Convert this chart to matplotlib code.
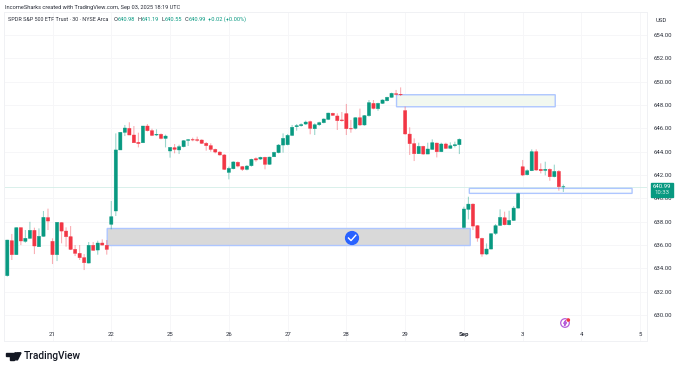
import matplotlib
matplotlib.use("Agg")
import matplotlib.pyplot as plt
from matplotlib.patches import Rectangle, Circle, Polygon
from matplotlib.transforms import IdentityTransform

plt.rcParams['font.family'] = ['Roboto', 'DejaVu Sans']

W, H = 680, 370

opens = [633.38,636.37,635.18,637.49,636.32,636.58,637.26,635.86,636.75,638.35,
 636.32,635.18,637.92,637.2,636.72,635.63,635.29,634.92,634.46,635.98,
 635.575,636.175,635.98,637.78,638.92,644.15,645.66,646.0,645.43,644.8,
 644.77,646.2,645.8,645.43,645.49,645.14,644.06,644.34,644.15,644.43,
 644.97,645.03,645.03,645.0,644.72,644.52,644.2,643.97,643.72,642.23,
 642.54,643.09,642.72,642.49,642.8,643.4,643.37,643.52,642.92,643.57,
 643.92,644.57,644.6,645.4,646.14,646.23,646.37,646.57,645.97,646.31,
 646.49,646.77,647.29,647.06,646.72,647.26,645.97,646.0,646.91,646.29,
 647.09,648.14,647.69,648.14,648.37,648.66,648.97,648.91,647.52,645.51,
 644.69,643.83,644.46,643.8,644.2,644.74,644.0,644.66,644.29,644.51,
 644.6,637.51,639.06,639.51,637.66,636.57,635.23,635.66,637.0,637.69,
 638.34,637.74,638.11,639.17,642.71,642.03,642.37,644.0,642.49,642.4,
 642.49,641.86,642.31,640.98]
closes = [636.43,635.18,637.49,636.35,636.58,637.26,635.92,636.75,638.375,638.06,
 635.18,637.95,637.2,636.72,635.63,635.29,634.92,634.49,635.98,635.55,
 636.175,636.0,635.63,638.43,644.15,645.66,646.03,645.43,644.77,644.7,
 646.2,645.8,645.4,645.49,645.14,645.34,644.37,644.2,644.43,644.94,
 645.03,645.0,644.97,644.72,644.52,644.2,643.97,643.72,642.49,642.57,
 643.12,642.77,642.49,642.77,643.35,643.29,643.52,642.92,643.54,643.94,
 644.57,645.14,645.4,646.09,646.23,646.32,646.54,646.0,646.31,646.49,
 646.8,647.31,647.12,646.66,646.66,645.97,645.95,646.91,646.29,647.09,
 648.2,647.71,648.14,648.43,648.66,649.0,648.91,648.89,645.52,644.69,
 643.83,644.46,643.8,644.23,644.77,644.0,644.66,644.29,644.51,644.6,
 645.06,639.09,639.51,637.63,636.6,635.23,635.66,636.97,637.66,638.37,
 637.74,638.11,639.17,640.4,642.0,642.37,644.0,642.43,642.37,642.49,
 641.86,642.31,641.0,640.99]
highs = [636.45,636.95,637.5,637.5,637.29,637.99,637.49,637.43,638.92,639.12,
 636.58,637.95,637.95,637.52,637.63,636.0,636.0,635.23,636.26,636.26,
 636.375,636.49,636.43,639.775,645.57,645.66,646.29,646.52,646.2,645.63,
 646.2,646.37,645.97,645.92,645.57,645.46,644.37,644.66,644.6,645.0,
 645.09,645.2,645.29,645.06,644.83,644.72,644.26,644.03,643.8,642.72,
 643.17,643.17,642.77,642.86,643.4,643.52,643.57,643.57,643.57,644.0,
 644.66,645.57,645.52,646.29,646.37,646.43,646.66,646.66,646.43,646.57,
 646.86,647.34,647.34,647.29,647.4,648.09,646.72,646.94,647.69,647.14,
 648.43,648.43,648.2,648.49,648.71,649.06,649.29,649.51,647.86,646.09,
 645.14,644.77,644.51,644.77,645.06,644.77,644.77,644.77,644.8,644.86,
 645.14,639.29,640.14,639.57,637.71,636.63,636.14,637.0,637.8,639.06,
 638.86,638.94,639.34,640.49,643.29,642.49,644.2,644.2,643.0,643.14,
 642.57,642.89,642.43,641.19]
lows = [633.3,634.72,635.15,636.0,636.2,636.55,635.23,635.85,636.72,637.29,
 634.375,634.63,636.15,635.86,635.575,635.06,634.72,633.86,634.43,635.52,
 635.175,635.97,635.18,637.35,638.49,644.15,645.34,645.43,644.77,644.37,
 644.74,645.74,645.34,645.34,645.06,644.37,643.49,643.86,643.8,644.37,
 644.49,644.9,644.86,644.66,644.09,644.0,643.86,643.66,642.43,641.63,
 642.49,642.66,642.35,642.4,642.72,643.14,643.29,642.49,642.89,643.54,
 643.86,643.92,644.54,645.34,645.8,646.14,646.29,645.49,645.43,646.2,
 646.43,646.71,647.06,645.86,646.57,645.43,645.63,645.91,646.2,646.23,
 647.0,647.63,647.51,648.09,648.31,648.63,648.83,648.77,645.46,643.72,
 643.2,643.8,643.74,643.8,644.17,643.51,643.97,644.23,644.26,644.37,
 643.8,637.43,638.2,637.29,636.29,635.0,635.14,635.63,636.86,637.63,
 637.69,637.69,638.09,639.14,641.91,641.97,642.34,642.37,642.14,641.97,
 641.51,641.8,640.66,640.55]

date_ticks = [10, 23, 36, 49, 62, 75, 88, 101, 114, 127, 140]
date_labels = ['21', '22', '25', '26', '27', '28', '29', 'Sep', '3', '4', '5']
price_ticks = list(range(630, 656, 2))
last_price = 640.99

# zones: left bar, right bar, top price, bottom price
zone_grey = (22.1, 102.4, 637.42, 635.96)
zone_top = (86.1, 121.2, 648.88, 647.85)
zone_low = (102.2, 138.2, 640.86, 640.43)

GREEN, RED = '#089981', '#F23645'
BORDER = '#aec6ff'

fig = plt.figure(figsize=(W / 100, H / 100), dpi=100, facecolor='white')
L, R, T, B = 4, 647, 12, 341
ax = fig.add_axes([L / W, 1 - B / H, (R - L) / W, (B - T) / H])
ax.set_xlim(-0.73, 141.5)
ax.set_ylim(627.78, 655.97)
ax.set_facecolor('white')
for s in ax.spines.values():
    s.set_color('#f0f1f4')
    s.set_linewidth(0.7)

ax.set_xticks(date_ticks)
ax.set_xticklabels(date_labels)
ax.set_yticks(price_ticks)
ax.set_yticklabels([f'{p:.2f}' for p in price_ticks])
ax.yaxis.tick_right()
ax.tick_params(axis='both', length=0, labelsize=4.3, labelcolor='#2a2e39', pad=0)
ax.tick_params(axis='x', pad=-6.8)
ax.tick_params(axis='y', pad=5)
ax.get_xticklabels()[7].set_fontweight('bold')
ax.grid(True, color='#f6f6f8', linewidth=0.7)
ax.set_axisbelow(True)

idx = list(range(len(opens)))
cols = [GREEN if c >= o else RED for o, c in zip(opens, closes)]

ax.axhline(last_price, color='#d3eee8', linewidth=0.6, zorder=1.2)

for (x0, x1, top, bot), fc in ((zone_grey, '#d9d9d9'), (zone_top, '#f2f8f0'), (zone_low, '#fcfefc')):
    r = Rectangle((x0, bot), x1 - x0, top - bot, facecolor=fc,
                  edgecolor=BORDER, linewidth=1.0, zorder=1.5)
    r.set_snap(False)
    ax.add_patch(r)

wicks = ax.vlines(idx, lows, highs, colors=cols, linewidth=0.8, alpha=0.4, zorder=2)
wicks.set_snap(False)
bars = ax.bar(idx, [c - o for o, c in zip(opens, closes)], bottom=opens, width=0.72,
              color=cols, edgecolor=cols, linewidth=0.3, zorder=3)
for b in bars:
    b.set_snap(False)

I = IdentityTransform()
# check badge on the grey zone
fig.add_artist(Circle((352, H - 238), 6.4, transform=I, color='#2962FF', zorder=6))
fig.add_artist(plt.Line2D([348.5, 351, 355.8], [H - 238, H - 240.6, H - 235.2], transform=I,
                          color='white', linewidth=1.0, zorder=7))

# purple badge
fig.add_artist(Circle((565, H - 323), 4.3, transform=I, facecolor='none',
                      edgecolor='#b65cd9', linewidth=0.9, zorder=6))
fig.add_artist(Polygon([(565.8, H - 320.5), (563.6, H - 323.5), (565.2, H - 323.5), (564.4, H - 325.8),
                        (566.6, H - 322.6), (565.0, H - 322.6)], transform=I,
                       color='#b65cd9', zorder=6))
fig.add_artist(Circle((568.3, H - 320), 1.1, transform=I, color='#F23645', zorder=7))

# last price tag
fig.add_artist(Rectangle((651, H - 196.5), 22, 14, transform=I, color=GREEN, zorder=6))
fig.text(662 / W, 1 - 186.5 / H, '640.99', color='white', fontsize=4.3, ha='center', va='center', zorder=7)
fig.text(662 / W, 1 - 192.8 / H, '10:33', color='#d8f0ea', fontsize=4.3, ha='center', va='center', zorder=7)

# header
TXT = '#2a2e39'
fig.text(5 / W, 1 - 7 / H, 'IncomeSharks created with TradingView.com, Sep 03, 2025 18:19 UTC',
         fontsize=4.05, color=TXT, va='center')
fig.text(8 / W, 1 - 19.5 / H, 'SPDR S&P 500 ETF Trust · 30 · NYSE Arca', fontsize=3.9, color=TXT, va='center')
for x, s, c in ((114, 'O', TXT), (117.5, '640.98', GREEN), (138, 'H', TXT), (141.5, '641.19', GREEN),
                (162, 'L', TXT), (165, '640.55', GREEN), (185, 'C', TXT), (188.5, '640.99', GREEN),
                (208, '+0.02 (+0.00%)', GREEN)):
    fig.text(x / W, 1 - 19.5 / H, s, fontsize=4.05, color=c, va='center')
fig.text(661 / W, 1 - 20 / H, 'USD', fontsize=4.3, color=TXT, ha='center', va='center')

# TradingView logo
K = '#131722'
fig.add_artist(Polygon([(6, H - 352.8), (13.5, H - 352.8), (13.5, H - 359.8), (10, H - 359.8), (10, H - 356), (6, H - 356)],
                       transform=I, color=K))
fig.add_artist(Circle((15.8, H - 354.4), 1.6, transform=I, color=K))
fig.add_artist(Polygon([(17.5, H - 352.8), (21, H - 352.8), (17.5, H - 359.8), (14, H - 359.8)],
                       transform=I, color=K))
fig.text(24 / W, 1 - 356 / H, 'TradingView', fontsize=7.3, fontweight='medium', color=K, va='center')

fig.savefig('out.png', dpi=100, facecolor='white')
